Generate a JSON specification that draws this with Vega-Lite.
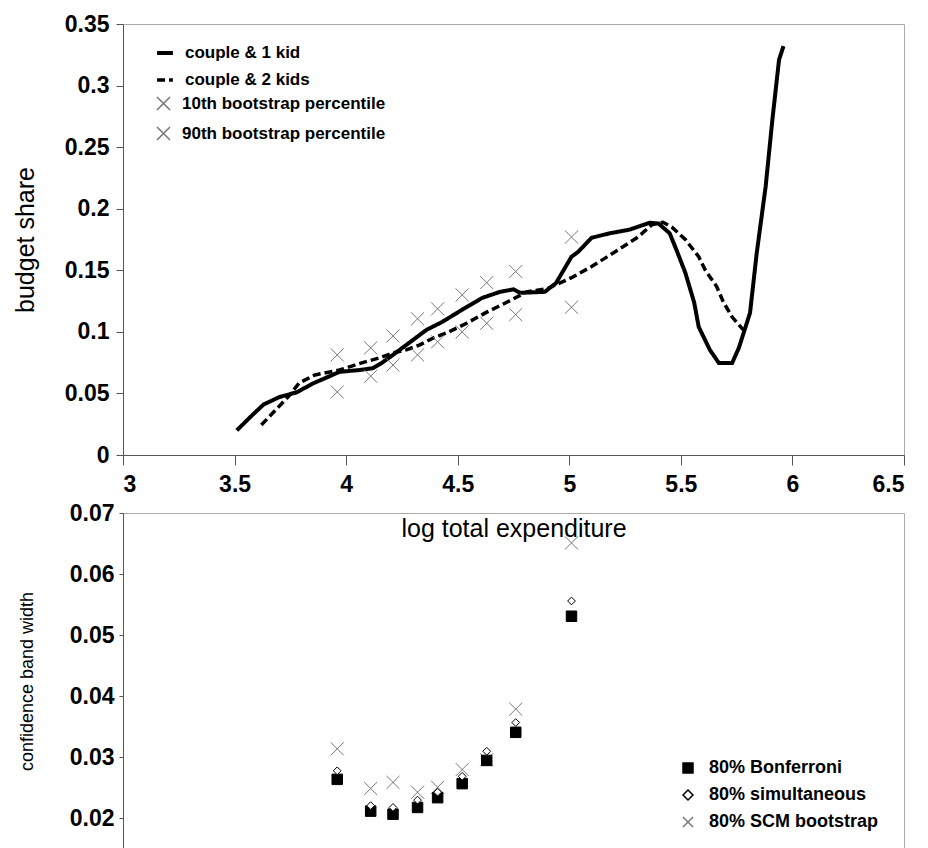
{
  "$schema": "https://vega.github.io/schema/vega-lite/v6.json",
  "padding": {"left": 12, "top": 12, "right": 20, "bottom": 0},
  "background": "white",
  "spacing": 58,
  "bounds": "flush",
  "resolve": {
    "scale": {"shape": "independent", "fill": "independent", "stroke": "independent", "strokeDash": "independent", "strokeWidth": "independent"},
    "legend": {"shape": "independent", "fill": "independent", "stroke": "independent", "strokeDash": "independent"}
  },
  "config": {
    "font": "Liberation Sans",
    "view": {"stroke": "#aaa", "strokeWidth": 1},
    "axis": {
      "grid": false,
      "domainColor": "#555",
      "tickColor": "#555",
      "labelFont": "Liberation Sans",
      "labelFontWeight": "bold",
      "labelFontSize": 23,
      "labelColor": "black",
      "titleFont": "Liberation Sans",
      "titleFontWeight": "normal",
      "titleColor": "black"
    },
    "legend": {
      "labelFont": "Liberation Sans",
      "labelFontWeight": "bold",
      "labelColor": "black",
      "labelLimit": 400
    }
  },
  "datasets": {
    "lines": [
      {"series": "couple & 1 kid", "x": 3.51, "y": 0.020},
      {"series": "couple & 1 kid", "x": 3.58, "y": 0.0325},
      {"series": "couple & 1 kid", "x": 3.63, "y": 0.041},
      {"series": "couple & 1 kid", "x": 3.70, "y": 0.047},
      {"series": "couple & 1 kid", "x": 3.78, "y": 0.051},
      {"series": "couple & 1 kid", "x": 3.85, "y": 0.058},
      {"series": "couple & 1 kid", "x": 3.92, "y": 0.0635},
      {"series": "couple & 1 kid", "x": 3.97, "y": 0.0675},
      {"series": "couple & 1 kid", "x": 4.06, "y": 0.069},
      {"series": "couple & 1 kid", "x": 4.12, "y": 0.0705},
      {"series": "couple & 1 kid", "x": 4.16, "y": 0.0748},
      {"series": "couple & 1 kid", "x": 4.21, "y": 0.0813},
      {"series": "couple & 1 kid", "x": 4.30, "y": 0.0935},
      {"series": "couple & 1 kid", "x": 4.36, "y": 0.1016},
      {"series": "couple & 1 kid", "x": 4.43, "y": 0.108},
      {"series": "couple & 1 kid", "x": 4.52, "y": 0.118},
      {"series": "couple & 1 kid", "x": 4.61, "y": 0.1276},
      {"series": "couple & 1 kid", "x": 4.69, "y": 0.1325},
      {"series": "couple & 1 kid", "x": 4.75, "y": 0.1345},
      {"series": "couple & 1 kid", "x": 4.78, "y": 0.1317},
      {"series": "couple & 1 kid", "x": 4.89, "y": 0.1325},
      {"series": "couple & 1 kid", "x": 4.94, "y": 0.1395},
      {"series": "couple & 1 kid", "x": 5.01, "y": 0.161},
      {"series": "couple & 1 kid", "x": 5.04, "y": 0.165},
      {"series": "couple & 1 kid", "x": 5.10, "y": 0.1764},
      {"series": "couple & 1 kid", "x": 5.18, "y": 0.180},
      {"series": "couple & 1 kid", "x": 5.27, "y": 0.183},
      {"series": "couple & 1 kid", "x": 5.36, "y": 0.1886},
      {"series": "couple & 1 kid", "x": 5.40, "y": 0.188},
      {"series": "couple & 1 kid", "x": 5.45, "y": 0.180},
      {"series": "couple & 1 kid", "x": 5.48, "y": 0.1667},
      {"series": "couple & 1 kid", "x": 5.52, "y": 0.148},
      {"series": "couple & 1 kid", "x": 5.56, "y": 0.1236},
      {"series": "couple & 1 kid", "x": 5.58, "y": 0.104},
      {"series": "couple & 1 kid", "x": 5.63, "y": 0.0854},
      {"series": "couple & 1 kid", "x": 5.67, "y": 0.0748},
      {"series": "couple & 1 kid", "x": 5.73, "y": 0.0748},
      {"series": "couple & 1 kid", "x": 5.76, "y": 0.087},
      {"series": "couple & 1 kid", "x": 5.81, "y": 0.1154},
      {"series": "couple & 1 kid", "x": 5.84, "y": 0.164},
      {"series": "couple & 1 kid", "x": 5.88, "y": 0.218},
      {"series": "couple & 1 kid", "x": 5.91, "y": 0.272},
      {"series": "couple & 1 kid", "x": 5.94, "y": 0.321},
      {"series": "couple & 1 kid", "x": 5.96, "y": 0.332},
      {"series": "couple & 2 kids", "x": 3.62, "y": 0.0244},
      {"series": "couple & 2 kids", "x": 3.74, "y": 0.0472},
      {"series": "couple & 2 kids", "x": 3.79, "y": 0.0585},
      {"series": "couple & 2 kids", "x": 3.86, "y": 0.065},
      {"series": "couple & 2 kids", "x": 3.97, "y": 0.069},
      {"series": "couple & 2 kids", "x": 4.07, "y": 0.0748},
      {"series": "couple & 2 kids", "x": 4.15, "y": 0.0789},
      {"series": "couple & 2 kids", "x": 4.21, "y": 0.083},
      {"series": "couple & 2 kids", "x": 4.27, "y": 0.0854},
      {"series": "couple & 2 kids", "x": 4.33, "y": 0.0894},
      {"series": "couple & 2 kids", "x": 4.39, "y": 0.095},
      {"series": "couple & 2 kids", "x": 4.46, "y": 0.100},
      {"series": "couple & 2 kids", "x": 4.54, "y": 0.107},
      {"series": "couple & 2 kids", "x": 4.63, "y": 0.116},
      {"series": "couple & 2 kids", "x": 4.72, "y": 0.124},
      {"series": "couple & 2 kids", "x": 4.81, "y": 0.1325},
      {"series": "couple & 2 kids", "x": 4.90, "y": 0.135},
      {"series": "couple & 2 kids", "x": 5.01, "y": 0.144},
      {"series": "couple & 2 kids", "x": 5.10, "y": 0.153},
      {"series": "couple & 2 kids", "x": 5.22, "y": 0.1667},
      {"series": "couple & 2 kids", "x": 5.31, "y": 0.1772},
      {"series": "couple & 2 kids", "x": 5.37, "y": 0.187},
      {"series": "couple & 2 kids", "x": 5.42, "y": 0.189},
      {"series": "couple & 2 kids", "x": 5.46, "y": 0.185},
      {"series": "couple & 2 kids", "x": 5.52, "y": 0.175},
      {"series": "couple & 2 kids", "x": 5.58, "y": 0.161},
      {"series": "couple & 2 kids", "x": 5.61, "y": 0.150},
      {"series": "couple & 2 kids", "x": 5.66, "y": 0.137},
      {"series": "couple & 2 kids", "x": 5.69, "y": 0.1244},
      {"series": "couple & 2 kids", "x": 5.73, "y": 0.112},
      {"series": "couple & 2 kids", "x": 5.78, "y": 0.1016}
    ],
    "bands": [
      {"series": "10th bootstrap percentile", "x": 3.96, "y": 0.0512},
      {"series": "10th bootstrap percentile", "x": 4.11, "y": 0.064},
      {"series": "10th bootstrap percentile", "x": 4.21, "y": 0.073},
      {"series": "10th bootstrap percentile", "x": 4.32, "y": 0.0813},
      {"series": "10th bootstrap percentile", "x": 4.41, "y": 0.0919},
      {"series": "10th bootstrap percentile", "x": 4.52, "y": 0.100},
      {"series": "10th bootstrap percentile", "x": 4.63, "y": 0.107},
      {"series": "10th bootstrap percentile", "x": 4.76, "y": 0.114},
      {"series": "10th bootstrap percentile", "x": 5.01, "y": 0.120},
      {"series": "90th bootstrap percentile", "x": 3.96, "y": 0.0813},
      {"series": "90th bootstrap percentile", "x": 4.11, "y": 0.087},
      {"series": "90th bootstrap percentile", "x": 4.21, "y": 0.0967},
      {"series": "90th bootstrap percentile", "x": 4.32, "y": 0.1106},
      {"series": "90th bootstrap percentile", "x": 4.41, "y": 0.1187},
      {"series": "90th bootstrap percentile", "x": 4.52, "y": 0.130},
      {"series": "90th bootstrap percentile", "x": 4.63, "y": 0.140},
      {"series": "90th bootstrap percentile", "x": 4.76, "y": 0.149},
      {"series": "90th bootstrap percentile", "x": 5.01, "y": 0.177}
    ],
    "widths": [
      {"method": "80% SCM bootstrap", "x": 3.96, "w": 0.0314},
      {"method": "80% SCM bootstrap", "x": 4.11, "w": 0.0249},
      {"method": "80% SCM bootstrap", "x": 4.21, "w": 0.0259},
      {"method": "80% SCM bootstrap", "x": 4.32, "w": 0.0243},
      {"method": "80% SCM bootstrap", "x": 4.41, "w": 0.0251},
      {"method": "80% SCM bootstrap", "x": 4.52, "w": 0.0280},
      {"method": "80% SCM bootstrap", "x": 4.63, "w": 0.0296},
      {"method": "80% SCM bootstrap", "x": 4.76, "w": 0.0379},
      {"method": "80% SCM bootstrap", "x": 5.01, "w": 0.0651},
      {"method": "80% Bonferroni", "x": 3.96, "w": 0.0264},
      {"method": "80% Bonferroni", "x": 4.11, "w": 0.0212},
      {"method": "80% Bonferroni", "x": 4.21, "w": 0.0207},
      {"method": "80% Bonferroni", "x": 4.32, "w": 0.0218},
      {"method": "80% Bonferroni", "x": 4.41, "w": 0.0234},
      {"method": "80% Bonferroni", "x": 4.52, "w": 0.0257},
      {"method": "80% Bonferroni", "x": 4.63, "w": 0.0295},
      {"method": "80% Bonferroni", "x": 4.76, "w": 0.0341},
      {"method": "80% Bonferroni", "x": 5.01, "w": 0.0531},
      {"method": "80% simultaneous", "x": 3.96, "w": 0.0278},
      {"method": "80% simultaneous", "x": 4.11, "w": 0.0221},
      {"method": "80% simultaneous", "x": 4.21, "w": 0.0218},
      {"method": "80% simultaneous", "x": 4.32, "w": 0.0230},
      {"method": "80% simultaneous", "x": 4.41, "w": 0.0243},
      {"method": "80% simultaneous", "x": 4.52, "w": 0.0269},
      {"method": "80% simultaneous", "x": 4.63, "w": 0.0310},
      {"method": "80% simultaneous", "x": 4.76, "w": 0.0357},
      {"method": "80% simultaneous", "x": 5.01, "w": 0.0556}
    ]
  },
  "vconcat": [
    {
      "width": 781,
      "height": 431,
      "layer": [
        {
          "data": {"name": "lines"},
          "mark": {"type": "line", "color": "black"},
          "encoding": {
            "x": {"field": "x", "type": "quantitative", "scale": {"domain": [3, 6.5], "nice": false},
              "axis": {"title": null, "values": [3, 3.5, 4, 4.5, 5, 5.5, 6, 6.5], "format": ".1~f", "tickSize": 10, "labelPadding": 8}},
            "y": {"field": "y", "type": "quantitative", "scale": {"domain": [0, 0.35], "nice": false},
              "axis": {"title": "budget share", "titleFontSize": 25, "titlePadding": 26, "values": [0, 0.05, 0.1, 0.15, 0.2, 0.25, 0.3, 0.35], "format": ".2~f", "tickSize": 7, "labelPadding": 7}},
            "strokeDash": {"field": "series", "type": "nominal", "scale": {"domain": ["couple & 1 kid", "couple & 2 kids"], "range": [[1, 0], [8, 4]]},
              "legend": {"title": null, "orient": "none", "legendX": 32, "legendY": 19, "labelFontSize": 17, "symbolType": "stroke", "symbolSize": 250, "symbolStrokeWidth": 4, "symbolStrokeColor": "black", "rowPadding": 9, "labelOffset": 10}},
            "strokeWidth": {"field": "series", "type": "nominal", "scale": {"domain": ["couple & 1 kid", "couple & 2 kids"], "range": [4, 3.5]}, "legend": null}
          }
        },
        {
          "data": {"name": "bands"},
          "mark": {"type": "point", "filled": false, "color": "#777", "strokeWidth": 1, "size": 170, "opacity": 1},
          "encoding": {
            "x": {"field": "x", "type": "quantitative"},
            "y": {"field": "y", "type": "quantitative"},
            "shape": {
              "field": "series", "type": "nominal",
              "scale": {
                "domain": ["10th bootstrap percentile", "90th bootstrap percentile"],
                "range": ["M-1,-1L1,1M-1,1L1,-1", "M-1,-1L1,1M-1,1L1,-1"]
              },
              "legend": {"title": null, "orient": "none", "legendX": 32, "legendY": 71, "labelFontSize": 17, "symbolSize": 170, "rowPadding": 9, "labelOffset": 10}
            }
          }
        }
      ]
    },
    {
      "width": 781,
      "height": 336,
      "data": {"name": "widths"},
      "mark": {"type": "point", "strokeWidth": 1, "opacity": 1},
      "encoding": {
        "x": {"field": "x", "type": "quantitative", "scale": {"domain": [3, 6.5], "nice": false},
          "axis": {"orient": "top", "labels": false, "ticks": false, "domain": false, "title": "log total expenditure", "titleFontSize": 25, "titleBaseline": "middle", "titleY": 15}},
        "y": {"field": "w", "type": "quantitative", "scale": {"domain": [0.015, 0.07], "nice": false},
          "axis": {"title": "confidence band width", "titleFontSize": 18, "titlePadding": 33, "values": [0.02, 0.03, 0.04, 0.05, 0.06, 0.07], "format": ".2f", "tickSize": 4, "labelPadding": 5}},
        "shape": {"field": "method", "type": "nominal",
          "scale": {"domain": ["80% Bonferroni", "80% simultaneous", "80% SCM bootstrap"], "range": ["square", "diamond", "M-1,-1L1,1M-1,1L1,-1"]},
          "legend": {"title": null, "orient": "none", "legendX": 556, "legendY": 246, "labelFontSize": 18, "rowPadding": 9, "labelOffset": 12, "symbolSize": 100}},
        "fill": {"field": "method", "type": "nominal",
          "scale": {"domain": ["80% Bonferroni", "80% simultaneous", "80% SCM bootstrap"], "range": ["black", "white", "transparent"]},
          "legend": {"title": null, "orient": "none", "legendX": 556, "legendY": 246, "labelFontSize": 18, "rowPadding": 9, "labelOffset": 12, "symbolSize": 100}},
        "stroke": {"field": "method", "type": "nominal",
          "scale": {"domain": ["80% Bonferroni", "80% simultaneous", "80% SCM bootstrap"], "range": ["black", "black", "#777"]},
          "legend": {"title": null, "orient": "none", "legendX": 556, "legendY": 246, "labelFontSize": 18, "rowPadding": 9, "labelOffset": 12, "symbolSize": 100}},
        "size": {
          "condition": [
            {"test": "datum.method === '80% SCM bootstrap'", "value": 170},
            {"test": "datum.method === '80% simultaneous'", "value": 60}
          ],
          "value": 110
        }
      }
    }
  ]
}
